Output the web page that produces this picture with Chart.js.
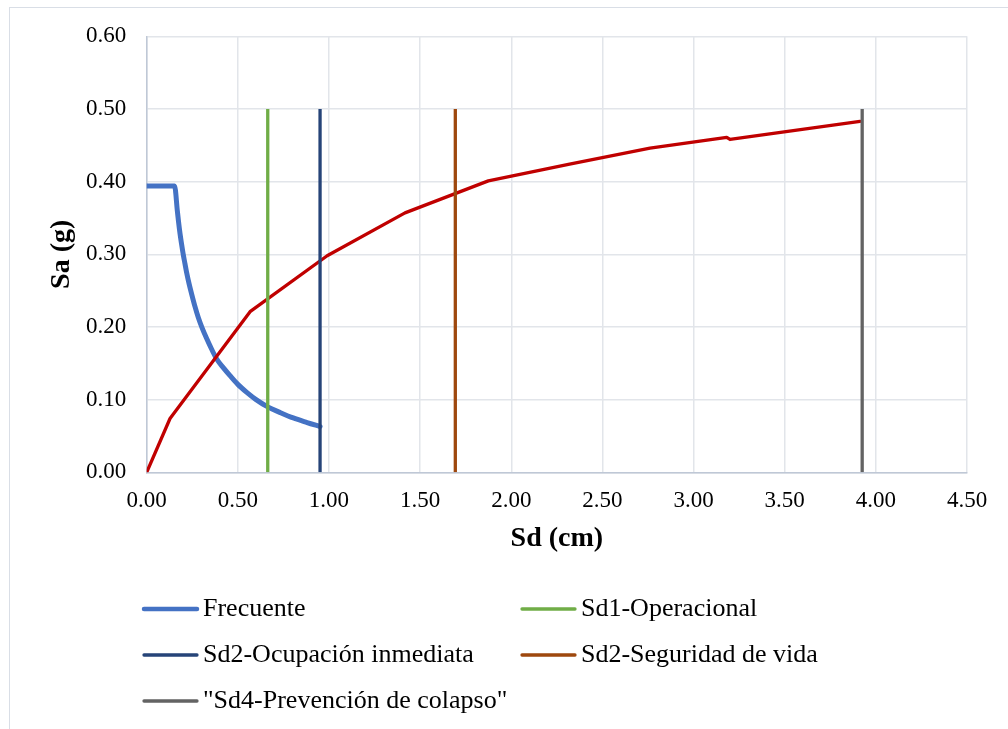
<!DOCTYPE html>
<html><head><meta charset="utf-8">
<script src="https://cdn.jsdelivr.net/npm/chart.js@4.4.1/dist/chart.umd.min.js"></script>
<style>
html,body{margin:0;padding:0;background:#fff;}
#wrap{position:relative;width:1008px;height:729px;overflow:hidden;background:#fff;}
#frame{position:absolute;left:9px;top:7px;width:1100px;height:800px;border:1px solid #D9DEE6;box-sizing:border-box;}
canvas{position:absolute;left:0;top:0;}
</style></head><body>
<div id="wrap"><div id="frame"></div><canvas id="c" width="1008" height="729"></canvas></div>
<script>
// ---- data ----
const frecuenteSd = [0, 0.153, 0.168, 0.175, 0.183, 0.192, 0.201, 0.210, 0.219, 0.233, 0.247, 0.265, 0.283, 0.305, 0.329, 0.355, 0.384, 0.420, 0.457, 0.500, 0.549, 0.600, 0.664, 0.730, 0.804, 0.880, 0.951];
const frecuenteSa = [0.394, 0.394, 0.360, 0.344, 0.328, 0.313, 0.299, 0.287, 0.275, 0.259, 0.245, 0.228, 0.213, 0.198, 0.184, 0.170, 0.156, 0.144, 0.133, 0.121, 0.110, 0.100, 0.090, 0.0825, 0.0748, 0.0685, 0.063];

const capacidadSd = [0, 0.128, 0.567, 0.99, 1.417, 1.874, 2.32, 2.761, 3.182, 3.20, 3.913];
const capacidadSa = [0, 0.074, 0.221, 0.298, 0.357, 0.401, 0.424, 0.446, 0.461, 0.458, 0.483];

const limitLabels = ['Sd1-Operacional', 'Sd2-Ocupación inmediata', 'Sd2-Seguridad de vida', '"Sd4-Prevención de colapso"'];
const limitSd = [0.664, 0.951, 1.693, 3.925];
const limitTop = [0.5, 0.5, 0.5, 0.5];
const limitColors = ['#70AD47', '#264478', '#9E480E', '#636363'];

const xTickValues = [0, 0.5, 1, 1.5, 2, 2.5, 3, 3.5, 4, 4.5];
const yTickValues = [0, 0.1, 0.2, 0.3, 0.4, 0.5, 0.6];

// ---- build datasets ----
const toXY = (xs, ys) => xs.map((x, i) => ({x: x, y: ys[i]}));
const datasets = [
  {label: 'Frecuente', data: toXY(frecuenteSd, frecuenteSa), borderColor: '#4472C4', borderWidth: 5,
   cubicInterpolationMode: 'monotone', borderCapStyle: 'round', borderJoinStyle: 'round', order: 3, inLegend: true, legendWidth: 4.5},
];
limitLabels.forEach((lab, i) => {
  datasets.push({label: lab, data: [{x: limitSd[i], y: 0}, {x: limitSd[i], y: limitTop[i]}],
    borderColor: limitColors[i], borderWidth: 3.3, borderCapStyle: 'butt', order: 1, inLegend: true, legendWidth: 3.3});
});
datasets.push({label: 'Capacidad', data: toXY(capacidadSd, capacidadSa), borderColor: '#C00000', borderWidth: 3.3,
  borderCapStyle: 'round', borderJoinStyle: 'round', order: 2, inLegend: false});

const FONT = "'Liberation Serif', 'Times New Roman', serif";

const gridLegend = {
  id: 'gridLegend',
  afterDraw(chart) {
    const ctx = chart.ctx;
    const cols = [143, 521];
    const rows = [609, 655, 701];
    const items = chart.data.datasets.filter(d => d.inLegend);
    ctx.save();
    ctx.font = '26px ' + FONT;
    ctx.textBaseline = 'middle';
    ctx.textAlign = 'left';
    items.forEach((d, i) => {
      const x = cols[i % 2], y = rows[Math.floor(i / 2)];
      ctx.strokeStyle = d.borderColor;
      ctx.lineWidth = d.legendWidth;
      ctx.lineCap = 'round';
      ctx.beginPath(); ctx.moveTo(x + 1, y); ctx.lineTo(x + 54, y); ctx.stroke();
      ctx.fillStyle = '#000';
      ctx.fillText(d.label, x + 60, y);
    });
    ctx.restore();
  }
};

new Chart(document.getElementById('c'), {
  type: 'line',
  data: {datasets: datasets},
  plugins: [gridLegend],
  options: {
    responsive: false,
    animation: false,
    devicePixelRatio: 1,
    layout: {padding: {top: 36.3, left: 0, right: 41, bottom: 156.7}},
    elements: {point: {radius: 0, hoverRadius: 0}, line: {tension: 0, fill: false}},
    plugins: {legend: {display: false}, tooltip: {enabled: false}},
    scales: {
      x: {
        type: 'linear', min: 0, max: 4.5,
        afterBuildTicks: s => { s.ticks = xTickValues.map(v => ({value: v})); },
        afterFit: s => { s.height = 100; },
        ticks: {padding: 14.4, color: '#000', font: {family: FONT, size: 23}, callback: v => Number(v).toFixed(2), maxRotation: 0, autoSkip: false},
        grid: {color: '#E2E5EA', lineWidth: 1.5, drawTicks: false},
        border: {display: true, color: '#BFC8D6', width: 1.5},
        title: {display: true, text: 'Sd (cm)', color: '#000', font: {family: FONT, size: 28, weight: 'bold'}, padding: {top: 0, bottom: 16.5}}
      },
      y: {
        type: 'linear', min: 0, max: 0.6,
        afterBuildTicks: s => { s.ticks = yTickValues.map(v => ({value: v})); },
        afterFit: s => { s.width = 146.7; },
        ticks: {padding: 20.5, color: '#000', font: {family: FONT, size: 23}, callback: v => Number(v).toFixed(2), autoSkip: false},
        grid: {color: '#E2E5EA', lineWidth: 1.5, drawTicks: false},
        border: {display: true, color: '#BFC8D6', width: 1.5},
        title: {display: true, text: 'Sa (g)', color: '#000', font: {family: FONT, size: 28, weight: 'bold'}, padding: {top: 45, bottom: 0}}
      }
    }
  }
});
</script>
</body></html>
